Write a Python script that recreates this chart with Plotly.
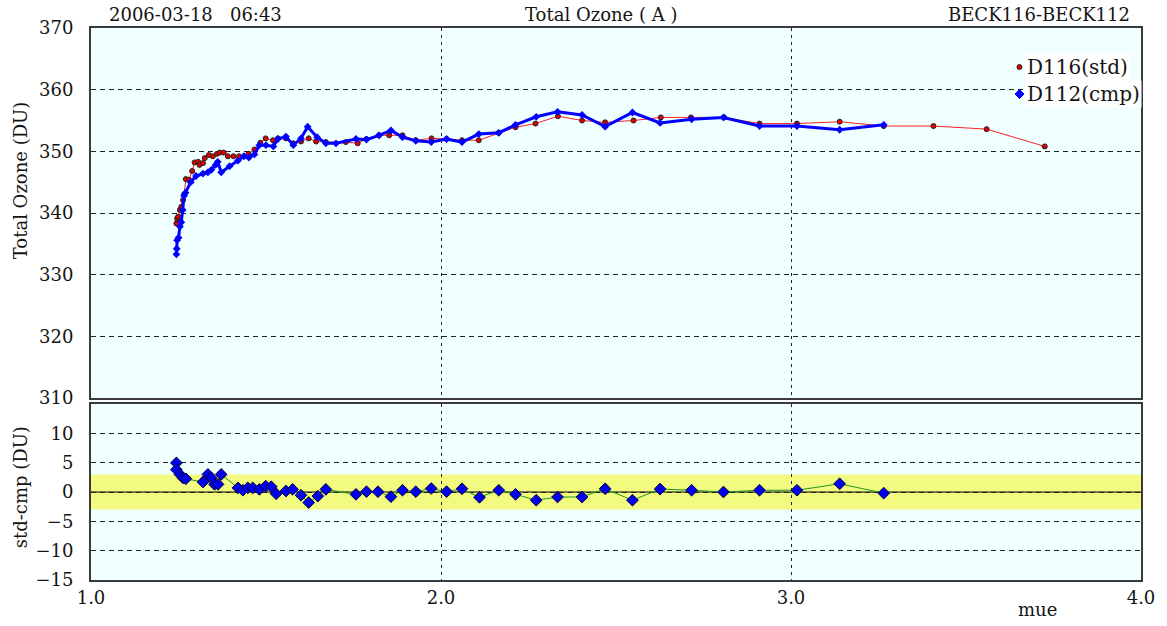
import plotly.graph_objects as go

# Total ozone measured by the reference instrument (std)
mue_std = [1.244, 1.246, 1.249, 1.254, 1.258, 1.263, 1.266, 1.271, 1.280, 1.289,
           1.296, 1.306, 1.310, 1.320, 1.325, 1.337, 1.348, 1.360, 1.368, 1.379,
           1.391, 1.407, 1.423, 1.450, 1.467, 1.484, 1.499, 1.520, 1.534, 1.557,
           1.578, 1.600, 1.622, 1.643, 1.671, 1.728, 1.762, 1.787, 1.823, 1.852,
           1.890, 1.928, 1.973, 2.016, 2.060, 2.108, 2.165, 2.213, 2.270, 2.334,
           2.403, 2.469, 2.550, 2.628, 2.714, 2.809, 2.910, 3.017, 3.139, 3.265,
           3.407, 3.559, 3.725]
o3_std = [338.3, 339.1, 339.4, 340.5, 341.0, 342.1, 343.0, 345.5, 345.4, 346.8,
          348.2, 348.3, 347.8, 348.1, 348.9, 349.4, 349.2, 349.6, 349.8, 349.8,
          349.2, 349.2, 349.2, 349.6, 350.3, 351.4, 352.1, 351.8, 352.1, 352.1,
          351.3, 351.6, 352.1, 351.6, 351.5, 351.5, 351.3, 352.0, 352.6, 352.6,
          352.6, 351.8, 352.1, 352.0, 351.8, 351.8, 353.0, 353.9, 354.5, 355.7,
          355.0, 354.7, 355.0, 355.5, 355.5, 355.5, 354.5, 354.5, 354.8, 354.1,
          354.1, 353.6, 350.8]

# Total ozone measured by the instrument under comparison (cmp)
mue_cmp = [1.244, 1.245, 1.246, 1.250, 1.254, 1.258, 1.262, 1.266, 1.270, 1.285,
           1.300, 1.320, 1.334, 1.344, 1.356, 1.362, 1.372, 1.396, 1.420, 1.437,
           1.451, 1.467, 1.481, 1.500, 1.521, 1.534, 1.557, 1.578, 1.600, 1.619,
           1.646, 1.671, 1.700, 1.757, 1.787, 1.823, 1.857, 1.890, 1.928, 1.972,
           2.016, 2.060, 2.108, 2.165, 2.213, 2.272, 2.333, 2.403, 2.469, 2.547,
           2.626, 2.716, 2.807, 2.910, 3.017, 3.139, 3.265]
o3_cmp = [333.3, 334.2, 335.6, 336.0, 337.8, 338.5, 340.5, 342.8, 343.3, 345.0,
          346.0, 346.4, 346.6, 347.0, 347.8, 348.3, 346.6, 347.6, 348.5, 349.2,
          349.0, 349.5, 351.0, 351.0, 350.8, 352.0, 352.4, 351.0, 352.1, 354.0,
          352.3, 351.3, 351.3, 352.0, 351.9, 352.6, 353.4, 352.3, 351.7, 351.5,
          352.0, 351.5, 352.8, 353.0, 354.3, 355.6, 356.4, 355.9, 354.0, 356.3,
          354.6, 355.2, 355.5, 354.1, 354.1, 353.5, 354.3]

# Differences std - cmp for simultaneous measurements
mue_diff = [1.244, 1.244, 1.254, 1.263, 1.271, 1.320, 1.334, 1.344, 1.353, 1.363,
            1.372, 1.420, 1.434, 1.448, 1.462, 1.481, 1.499, 1.515, 1.529, 1.557,
            1.576, 1.600, 1.622, 1.648, 1.671, 1.757, 1.787, 1.820, 1.857, 1.890,
            1.928, 1.972, 2.016, 2.060, 2.110, 2.165, 2.213, 2.272, 2.333, 2.403,
            2.469, 2.547, 2.626, 2.716, 2.807, 2.910, 3.017, 3.139, 3.265]
diff = [4.96, 3.8, 3.0, 2.4, 2.25, 1.7, 3.0, 2.4, 1.3, 1.3,
        3.0, 0.7, 0.3, 0.7, 0.7, 0.45, 1.0, 0.9, -0.3, 0.17,
        0.45, -0.55, -1.8, -0.7, 0.45, -0.4, 0.05, 0.05, -0.8, 0.3,
        0.05, 0.6, 0.05, 0.55, -0.9, 0.3, -0.4, -1.4, -0.85, -0.85,
        0.55, -1.4, 0.5, 0.3, 0.0, 0.3, 0.3, 1.4, -0.2]

x_ticks = [1.0, 2.0, 3.0, 4.0]
x_tick_text = ["1.0", "2.0", "3.0", "4.0"]
o3_ticks = [310, 320, 330, 340, 350, 360, 370]
diff_ticks = [-15, -10, -5, 0, 5, 10]
band = 3.0
series_names = ["D116(std)", "D112(cmp)"]

FONT = "DejaVu Serif"
TXT = "#141414"
FRAME = "#3a3a3a"
BG = "#F0FFFF"
RED_LINE = "#FF2020"
RED_MARK = "#E00000"
BLUE = "#0000FF"

W, H = 1167, 626
ML, MR, MT, MB = 91, 22, 28, 46
pw = W - ML - MR
ph = H - MT - MB
top_dom = [(H - MB - 398) / ph, 1.0]
bot_dom = [0.0, (H - MB - 404) / ph]


def paper_y(py):
    return (H - MB - py) / ph


def paper_x(px):
    return (px - ML) / pw


fig = go.Figure()

fig.add_trace(go.Scatter(
    x=mue_std, y=o3_std, mode="lines+markers", xaxis="x", yaxis="y",
    name=series_names[0],
    line=dict(color=RED_LINE, width=1),
    marker=dict(symbol="circle", size=5, color=RED_MARK,
                line=dict(color="#202020", width=1)),
    showlegend=False, hoverinfo="skip"))
fig.add_trace(go.Scatter(
    x=mue_cmp, y=o3_cmp, mode="lines+markers", xaxis="x", yaxis="y",
    name=series_names[1],
    line=dict(color=BLUE, width=3),
    marker=dict(symbol="diamond", size=6, color=BLUE),
    showlegend=False, hoverinfo="skip"))

fig.add_trace(go.Scatter(
    x=mue_diff, y=diff, mode="lines+markers", xaxis="x2", yaxis="y2",
    line=dict(color="#1E9A1E", width=1),
    marker=dict(symbol="diamond", size=9, color="#0000EE",
                line=dict(color="#000033", width=1)),
    showlegend=False, hoverinfo="skip"))

# tolerance band and zero line in the difference panel
fig.add_shape(type="rect", xref="x2", yref="y2", x0=1.0, x1=4.0,
              y0=-band, y1=band, fillcolor="#F2FA80", line_width=0, layer="below")
fig.add_shape(type="line", xref="x2", yref="y2", x0=1.0, x1=4.0, y0=0, y1=0,
              line=dict(color="black", width=1.2), layer="below")

axis_common = dict(showline=True, mirror=True, linecolor=FRAME, linewidth=2,
                   zeroline=False, ticks="",
                   tickfont=dict(family=FONT, size=18, color=TXT))

fig.update_layout(
    width=W, height=H,
    margin=dict(l=ML, r=MR, t=MT, b=MB),
    paper_bgcolor="white", plot_bgcolor=BG,
    font=dict(family=FONT, size=18, color=TXT),
    showlegend=False,
    xaxis=dict(axis_common, domain=[0, 1], range=[1.0, 4.0], anchor="y",
               tickvals=x_ticks, showticklabels=False,
               showgrid=True, gridcolor="#222222", gridwidth=1, griddash="3px,4px"),
    yaxis=dict(axis_common, domain=top_dom, range=[310, 370], anchor="x",
               tickvals=o3_ticks, ticklabelstandoff=12,
               showgrid=True, gridcolor="#222222", gridwidth=1, griddash="5px,4px"),
    xaxis2=dict(axis_common, domain=[0, 1], range=[1.0, 4.0], anchor="y2",
                tickvals=x_ticks, ticktext=x_tick_text, ticklabelstandoff=0,
                showgrid=True, gridcolor="#222222", gridwidth=1, griddash="3px,4px"),
    yaxis2=dict(axis_common, domain=bot_dom, range=[-15, 15], anchor="x2",
                tickvals=diff_ticks, ticklabelstandoff=12,
                showgrid=True, gridcolor="#222222", gridwidth=1, griddash="5px,4px"),
)

ann = [
    dict(text="2006-03-18\u00a0\u00a0 06:43", x=paper_x(107), y=paper_y(14),
         xanchor="left", yanchor="middle"),
    dict(text="Total Ozone ( A )", x=paper_x(603), y=paper_y(14),
         xanchor="center", yanchor="middle"),
    dict(text="BECK116-BECK112", x=paper_x(1136), y=paper_y(14),
         xanchor="right", yanchor="middle"),
    dict(text="Total Ozone (DU)", x=paper_x(20), y=paper_y(180),
         xanchor="center", yanchor="middle", textangle=-90),
    dict(text="std-cmp (DU)", x=paper_x(20), y=paper_y(487),
         xanchor="center", yanchor="middle", textangle=-90),
    dict(text="mue", x=paper_x(1041), y=paper_y(609),
         xanchor="center", yanchor="middle"),
]
for a in ann:
    fig.add_annotation(xref="paper", yref="paper", showarrow=False,
                       font=dict(family=FONT, size=18, color=TXT), **a)

# key: series names on white boxes with their marker symbols
key_rows = [67, 94]
for name, row in zip(series_names, key_rows):
    fig.add_annotation(xref="paper", yref="paper", showarrow=False,
                       text=name, x=paper_x(1029), y=paper_y(row),
                       xanchor="left", yanchor="middle", bgcolor="white",
                       borderpad=1,
                       font=dict(family=FONT, size=20, color=TXT))
cx = paper_x(1023)
r = 2.5
fig.add_shape(type="circle", xref="paper", yref="paper",
              x0=cx - r / pw, x1=cx + r / pw,
              y0=paper_y(key_rows[0]) - r / ph, y1=paper_y(key_rows[0]) + r / ph,
              fillcolor=RED_MARK, line=dict(color="#202020", width=1))
dx, dy = 4.5 / pw, 4.5 / ph
yc = paper_y(key_rows[1])
fig.add_shape(type="path", xref="paper", yref="paper",
              path=f"M {cx - dx} {yc} L {cx} {yc + dy} L {cx + dx} {yc} L {cx} {yc - dy} Z",
              fillcolor=BLUE, line=dict(color=BLUE, width=1))

fig.write_html("out.html")
